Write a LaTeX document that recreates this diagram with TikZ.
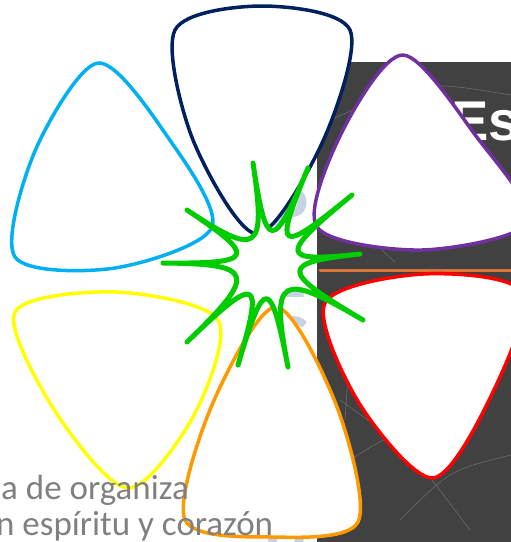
\documentclass[tikz,border=0pt]{standalone}
\usepackage{fontspec}
\setmainfont{Carlito}
\newfontfamily\titlefont{Liberation Sans}
\usetikzlibrary{calc}
\definecolor{navy}{HTML}{002060}
\definecolor{morado}{HTML}{7030A0}
\definecolor{celeste}{HTML}{00B0F0}
\definecolor{amarillo}{HTML}{FFFF00}
\definecolor{naranja}{HTML}{FF9900}
\definecolor{rojo}{HTML}{FF0000}
\definecolor{verde}{HTML}{00CC00}
\definecolor{pizarra}{HTML}{414141}
\definecolor{regla}{HTML}{D9733A}
\definecolor{gristexto}{HTML}{808080}
\definecolor{grisazul}{HTML}{C8D2E5}
\tikzset{
	pua/.style={draw=#1, line width=3.5pt, fill=white},
	estrella/.style={draw=verde, line width=5pt, fill=white},
	raya/.style={draw=white!22!pizarra, line width=0.6pt},
	texto/.style={inner sep=0pt, text=gristexto, font=\fontsize{35}{40}\selectfont},
	letra/.style={inner sep=0pt, text=grisazul, font=\bfseries\fontsize{70}{70}\selectfont},
}
\begin{document}
\begin{tikzpicture}[x=1pt,y=-1pt, line join=round, line cap=round]
	\def\W{511} \def\H{542} % tamaño
	\useasboundingbox (0,0) rectangle (\W,\H);
	\clip (0,0) rectangle (\W,\H);
	% fondo de pizarra
	\fill[pizarra] (317,62) rectangle (\W,\H);
	\foreach \a/\b/\c/\d/\e/\f in {330/120/420/80/511/95, 325/205/360/230/395/262, 340/400/410/450/470/530,
		320/480/380/440/430/420, 440/150/480/170/511/205, 360/330/430/350/511/318, 400/520/450/470/511/455, 330/300/350/350/345/420}
		\draw[raya] (\a,\b) .. controls (\c,\d) .. (\e,\f);
	\node[anchor=base west, inner sep=0pt, text=white, font=\titlefont\bfseries\fontsize{56}{60}\selectfont] (titulo) at (451,140) {Es};
	\draw[regla, line width=3pt] (320,270) -- (\W,270);
	% letras de fondo
	\foreach \l/\y in {P/233, E/297, C/362} \node[letra, anchor=base] at (290,\y) {\l};
	\node[letra, anchor=base] (v) at (286,578) {V};
	% puas
	\draw[pua=celeste] plot[smooth cycle, tension=.5] coordinates {(98,63) (167,136) (212,227) (115,268) (15,257) (35,151)};
	\draw[pua=navy] plot[smooth cycle, tension=.5] coordinates {(175,30) (262,6) (350,30) (323,141) (257,234) (193,140)};
	\draw[pua=morado] plot[smooth cycle, tension=.5] coordinates {(403,55) (476,136) (528,222) (422,250) (317,227) (342,132)};
	\draw[pua=amarillo] plot[smooth cycle, tension=.5] coordinates {(15,312) (116,292) (218,320) (194,415) (128,488) (55,411)};
	\draw[pua=naranja] plot[smooth cycle, tension=.5] coordinates {(276,307) (337,407) (358,522) (271,537) (185,520) (212,405)};
	\draw[pua=rojo] plot[smooth cycle, tension=.5] coordinates {(325,303) (423,274) (522,292) (493,392) (433,478) (359,403)};
	% texto de abajo
	\node[texto, anchor=base west] (linea1) at (1,499) {a de organiza};
	\node[texto, anchor=base west] (linea2) at (-4,535) {n espíritu y corazón};
	% estrella
	\coordinate (c) at (268,264);
	\foreach \x/\y [count=\i] in {253/163, 308/168, 352/195, 360/254, 363/320, 288/367, 238/365, 187/342, 163/263, 187/210}
		\coordinate (t\i) at (\x,\y);
	\draw[estrella] (t10) \foreach \j [remember=\j as \i (initially 10)] in {1,...,10} { .. controls ($(c)!.12!(t\i)$) and ($(c)!.12!(t\j)$) .. (t\j) } -- cycle;
\end{tikzpicture}
\end{document}
